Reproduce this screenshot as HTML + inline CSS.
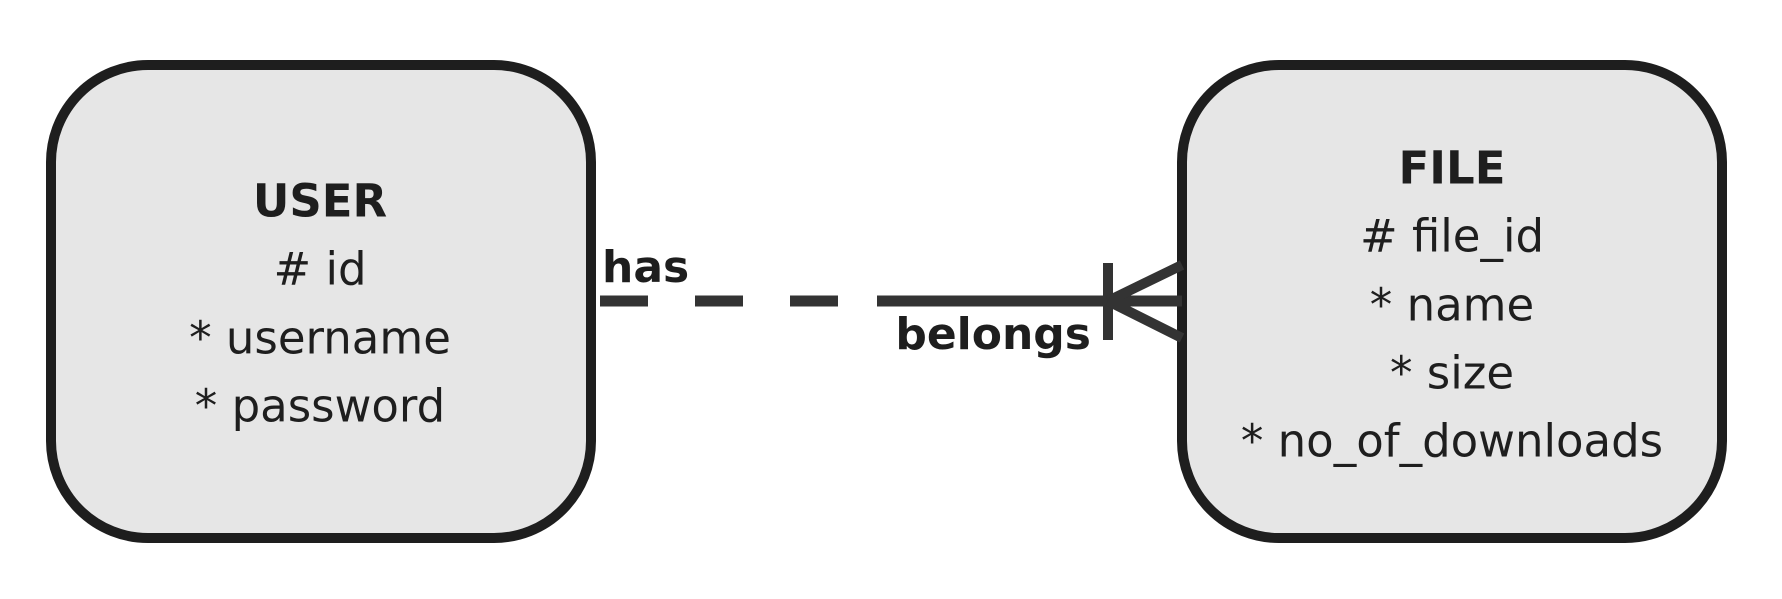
<!DOCTYPE html>
<html><head><meta charset="utf-8"><style>
html,body{margin:0;padding:0;background:#fff;width:1782px;height:599px;overflow:hidden}
svg text{font-family:"DejaVu Sans","Liberation Sans",sans-serif;fill:#1e1e1e}
</style></head><body>
<svg width="1782" height="599" viewBox="0 0 1782 599">
<rect x="51" y="65" width="540" height="473" rx="97" fill="#e6e6e6" stroke="#1e1e1e" stroke-width="10"/>
<rect x="1182" y="65" width="540" height="473" rx="97" fill="#e6e6e6" stroke="#1e1e1e" stroke-width="10"/>
<g text-anchor="middle" font-size="45" dominant-baseline="central">
<text x="320" y="201" font-weight="bold">USER</text>
<text x="320" y="269"># id</text>
<text x="320" y="338">* username</text>
<text x="320" y="406">* password</text>
<text x="1452" y="168" font-weight="bold">FILE</text>
<text x="1452" y="236"># file_id</text>
<text x="1452" y="305">* name</text>
<text x="1452" y="373">* size</text>
<text x="1452" y="441">* no_of_downloads</text>
</g>
<g stroke="#333" stroke-width="11" fill="none">
<line x1="600" y1="301" x2="839" y2="301" stroke-dasharray="48 47"/>
<line x1="877" y1="301" x2="1182" y2="301"/>
<line x1="1108" y1="263" x2="1108" y2="340" stroke-width="10"/>
<line x1="1108" y1="301" x2="1182" y2="265" stroke-width="10"/>
<line x1="1108" y1="301" x2="1182" y2="338" stroke-width="10"/>
</g>
<text x="602" y="282" font-size="44" font-weight="bold">has</text>
<text x="1091" y="349" font-size="44" font-weight="bold" text-anchor="end">belongs</text>
</svg>
</body></html>
